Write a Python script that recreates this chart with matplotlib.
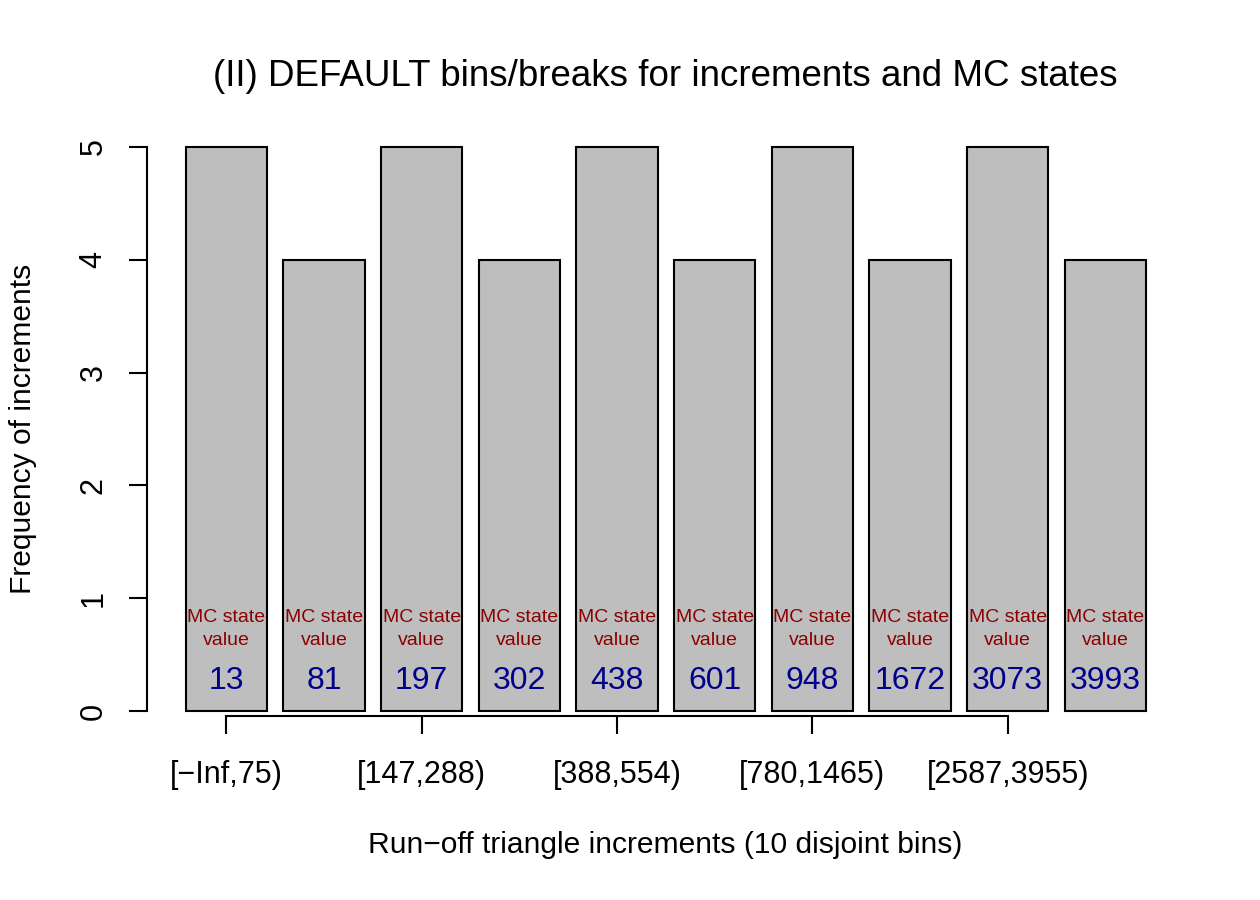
import numpy as np
import matplotlib.pyplot as plt

plt.rcParams['font.family'] = ['Liberation Sans', 'DejaVu Sans']

# data
bin_labels = ['[\u2212Inf,75)', '[75,147)', '[147,288)', '[288,388)', '[388,554)',
              '[554,780)', '[780,1465)', '[1465,2587)', '[2587,3955)', '[3955, Inf]']
freq = [5, 4, 5, 4, 5, 4, 5, 4, 5, 4]
mc_states = [13, 81, 197, 302, 438, 601, 948, 1672, 3073, 3993]

# R barplot geometry: width 1, space 0.2
x = 0.7 + 1.2 * np.arange(len(freq))

fig = plt.figure(figsize=(12.6, 9), dpi=100)
ax = fig.add_axes([0.1169, 0.1849, 0.94 - 0.1169, 0.8618 - 0.1849])

ax.bar(x, freq, width=1.0, color='#bebebe', edgecolor='black', linewidth=1.5)
for xi, v in zip(x, mc_states):
    ax.text(xi, 0.73, 'MC state\nvalue', ha='center', va='center',
            color='#8b0000', fontsize=14, linespacing=1.45)
    ax.text(xi, 0.27, str(v), ha='center', va='center', color='#00008b', fontsize=23)

ax.set_xlim(-0.272, 12.472)
ax.set_ylim(-0.2, 5.2)

for s in ['top', 'right']:
    ax.spines[s].set_visible(False)
ax.spines['left'].set_bounds(0, 5)
ax.spines['left'].set_linewidth(1.5)
ax.spines['bottom'].set_position(('data', -0.044))
ax.spines['bottom'].set_bounds(x[0], x[8])
ax.spines['bottom'].set_linewidth(1.5)

ax.set_yticks(range(6))
ax.set_yticklabels([str(i) for i in range(6)], rotation=90, va='center')
ax.set_xticks(x[::2])
ax.set_xticklabels(bin_labels[::2])
ax.tick_params(axis='y', length=13, width=1.5, labelsize=22, pad=15)
ax.tick_params(axis='x', length=13, width=1.5, labelsize=22, pad=19)

fig.text(0.528, 0.915, '(II) DEFAULT bins/breaks for increments and MC states',
         ha='center', va='center', fontsize=26.5)
fig.text(0.528, 0.061, 'Run\u2212off triangle increments (10 disjoint bins)',
         ha='center', va='center', fontsize=21.6)
fig.text(0.018, 0.523, 'Frequency of increments', rotation=90,
         ha='center', va='center', fontsize=21.6)

fig.savefig('out.png', dpi=100)
